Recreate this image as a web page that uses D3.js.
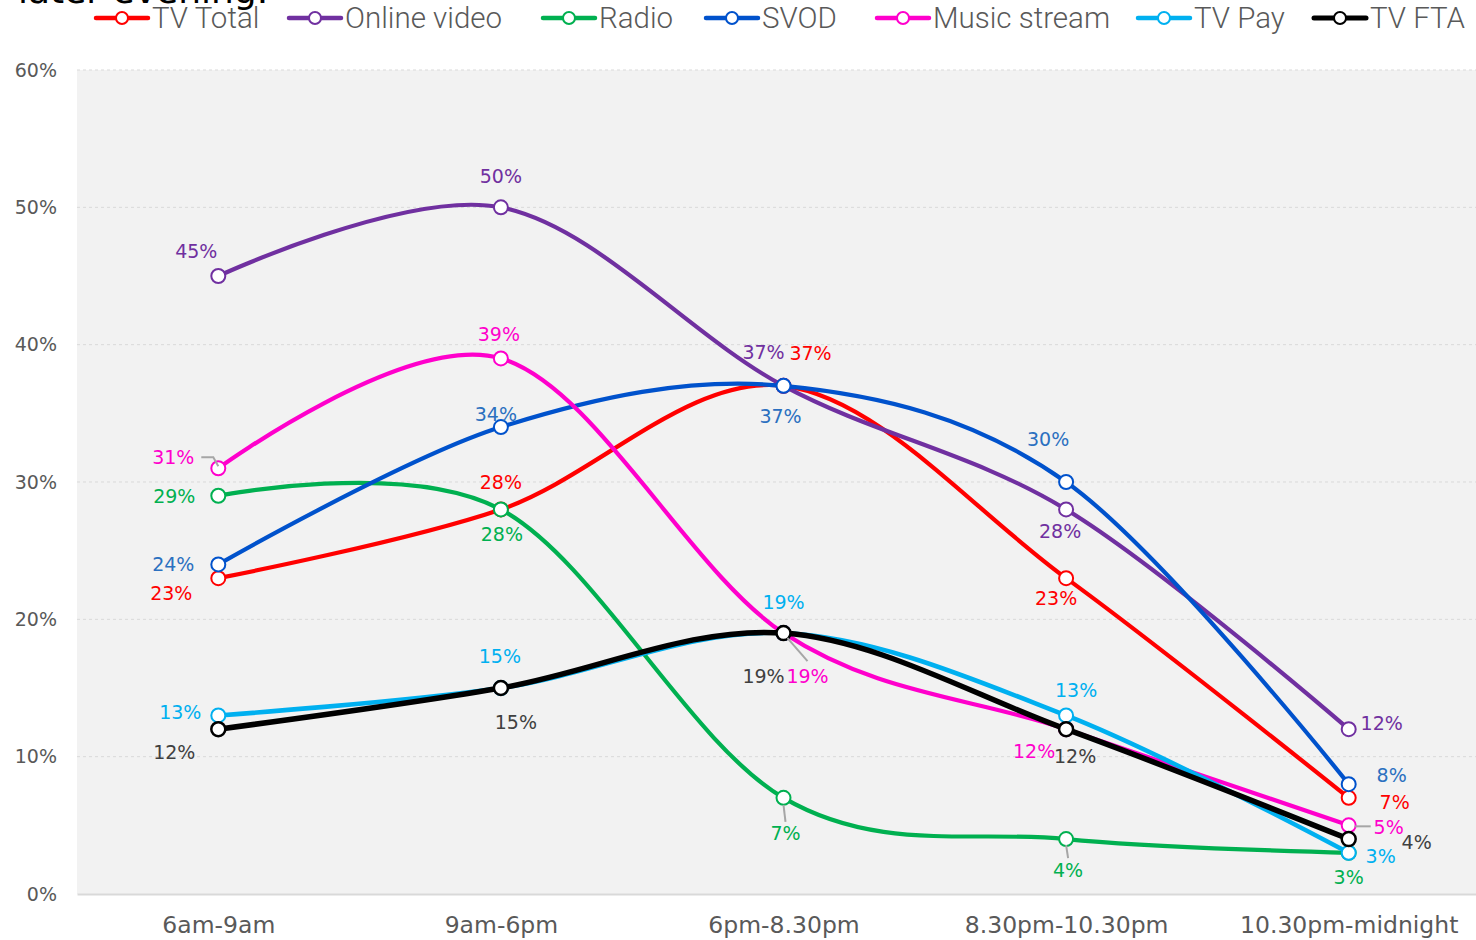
<!DOCTYPE html>
<html>
<head>
<meta charset="utf-8">
<script src="https://cdn.jsdelivr.net/npm/d3@7"></script>
<style>
  html, body { margin: 0; padding: 0; background: #ffffff; }
  svg { display: block; }
</style>
</head>
<body>
<svg id="chart" width="1476" height="940"></svg>
<script>
// ---------- DATA ----------
const categories = ["6am-9am", "9am-6pm", "6pm-8.30pm", "8.30pm-10.30pm", "10.30pm-midnight"];
const seriesNames = ["TV Total", "Online video", "Radio", "SVOD", "Music stream", "TV Pay", "TV FTA"];
const tvTotal     = [23, 28, 37, 23, 7];
const onlineVideo = [45, 50, 37, 28, 12];
const radio       = [29, 28, 7, 4, 3];
const svod        = [24, 34, 37, 30, 8];
const musicStream = [31, 39, 19, 12, 5];
const tvPay       = [13, 15, 19, 13, 3];
const tvFta       = [12, 15, 19, 12, 4];
const yTicks      = [0, 10, 20, 30, 40, 50, 60];
const titleText   = "later evening.";

// ---------- STYLE / LAYOUT ----------
const lineColors  = ["#ff0000", "#7030a0", "#00b050", "#0052cc", "#ff00cc", "#00b0f0", "#000000"];
const labelColors = ["#ff0000", "#7030a0", "#00b050", "#2b70c0", "#ff00cc", "#00b0f0", "#404040"];
const lineWidths  = [4.2, 4.2, 4.2, 4.2, 4.2, 4.6, 5.5];
// label offsets [dx, dy] from each point (label centre)
const labelOffsets = [
  [[-47, 15], [0, -27], [27, -33], [-10, 20], [46, 4]],
  [[-22, -25], [0, -31], [-20, -34], [-6, 22], [33, -6]],
  [[-44, 0], [1, 25], [2, 35], [2, 31], [0, 24]],
  [[-45, 0], [-5, -13], [-3, 30], [-18, -43], [43, -9]],
  [[-45, -11], [-2, -24], [24, 43], [-32, 22], [40, 2]],
  [[-38, -3], [-1, -32], [0, -31], [10, -25], [32, 3]],
  [[-44, 23], [15, 34], [-20, 43], [9, 27], [68, 3]]
];
// leader lines: [seriesIndex, pointIndex, list of [dx,dy] from the point]
const leaders = [
  [4, 0, [[-17, -11], [-5, -11], [0, -2]]],
  [2, 2, [[0, 7], [2, 24]]],
  [2, 3, [[0, 6], [2, 19]]],
  [4, 2, [[4, 5], [24, 28]]],
  [4, 4, [[6, 1], [22, 1]]]
];
const legendX = [96, 289, 543, 706, 877, 1138, 1314];

const allSeries = [tvTotal, onlineVideo, radio, svod, musicStream, tvPay, tvFta];

const svg = d3.select("#chart");
const W = 1476, H = 940;
const plotLeft = 77, plotTop = 70, plotBottom = 894;

const x = d3.scalePoint().domain(categories).range([plotLeft, 1490]).padding(0.5);
const y = d3.scaleLinear().domain([0, 60]).range([plotBottom, plotTop]);

const labelFont = "'DejaVu Sans', sans-serif";

// title (cut off at top)
svg.append("text")
  .attr("x", 18).attr("y", 3)
  .attr("font-family", labelFont)
  .attr("font-size", 36)
  .attr("fill", "#000")
  .text(titleText);

// plot background
svg.append("rect")
  .attr("x", plotLeft).attr("y", plotTop)
  .attr("width", W - plotLeft).attr("height", plotBottom - plotTop)
  .attr("fill", "#f2f2f2");

// gridlines
svg.append("g").selectAll("line")
  .data(yTicks.filter(d => d > 0))
  .join("line")
  .attr("x1", plotLeft).attr("x2", W)
  .attr("y1", d => y(d)).attr("y2", d => y(d))
  .attr("stroke", "#d9d9d9")
  .attr("stroke-width", 1)
  .attr("stroke-dasharray", "3,3");

// y axis
const yAxis = svg.append("g")
  .attr("transform", `translate(${plotLeft},0)`)
  .call(d3.axisLeft(y).tickValues(yTicks).tickFormat(d => d + "%").tickSize(0).tickPadding(20));
yAxis.select(".domain").remove();
yAxis.selectAll("text")
  .attr("font-family", labelFont)
  .attr("font-size", 19)
  .attr("fill", "#595959");

// x axis
const xAxis = svg.append("g")
  .attr("transform", `translate(0,${plotBottom})`)
  .call(d3.axisBottom(x).tickSize(0).tickSizeOuter(0).tickPadding(22));
xAxis.select(".domain").attr("stroke", "#d9d9d9").attr("stroke-width", 2);
xAxis.selectAll("text")
  .attr("font-family", labelFont)
  .attr("font-size", 23.5)
  .attr("fill", "#595959");

// lines + markers
const line = d3.line()
  .x((d, i) => x(categories[i]))
  .y(d => y(d))
  .curve(d3.curveCardinal.tension(0));

const seriesG = svg.append("g");
allSeries.forEach((vals, si) => {
  const g = seriesG.append("g");
  g.append("path")
    .datum(vals)
    .attr("d", line)
    .attr("fill", "none")
    .attr("stroke", lineColors[si])
    .attr("stroke-width", lineWidths[si])
    .attr("stroke-linejoin", "round")
    .attr("stroke-linecap", "round");
  g.selectAll("circle")
    .data(vals)
    .join("circle")
    .attr("cx", (d, i) => x(categories[i]))
    .attr("cy", d => y(d))
    .attr("r", 7)
    .attr("fill", "#ffffff")
    .attr("stroke", lineColors[si])
    .attr("stroke-width", si === 6 ? 2.5 : 2);
});

// leader lines
leaders.forEach(([si, pi, pts]) => {
  const px = x(categories[pi]);
  const py = y(allSeries[si][pi]);
  svg.append("path")
    .attr("d", d3.line()(pts.map(p => [px + p[0], py + p[1]])))
    .attr("fill", "none")
    .attr("stroke", "#a6a6a6")
    .attr("stroke-width", 2);
});

// data labels
const labelsG = svg.append("g");
allSeries.forEach((vals, si) => {
  labelsG.selectAll(null)
    .data(vals)
    .join("text")
    .attr("x", (d, i) => x(categories[i]) + labelOffsets[si][i][0])
    .attr("y", (d, i) => y(d) + labelOffsets[si][i][1])
    .attr("text-anchor", "middle")
    .attr("dominant-baseline", "central")
    .attr("font-family", labelFont)
    .attr("font-size", 19)
    .attr("fill", labelColors[si])
    .text(d => d + "%");
});

// legend
const legend = svg.append("g");
seriesNames.forEach((name, si) => {
  const lx = legendX[si];
  const ly = 18;
  const g = legend.append("g");
  g.append("line")
    .attr("x1", lx).attr("x2", lx + 52)
    .attr("y1", ly).attr("y2", ly)
    .attr("stroke", lineColors[si])
    .attr("stroke-width", si === 6 ? 5 : 4.5)
    .attr("stroke-linecap", "round");
  g.append("circle")
    .attr("cx", lx + 26).attr("cy", ly)
    .attr("r", 6)
    .attr("fill", "#fff")
    .attr("stroke", lineColors[si])
    .attr("stroke-width", 2);
  g.append("text")
    .attr("x", lx + 56).attr("y", ly)
    .attr("dominant-baseline", "central")
    .attr("font-family", "Roboto, sans-serif")
    .attr("font-weight", 300)
    .attr("font-size", 29.5)
    .attr("fill", "#595959")
    .text(name);
});
</script>
</body>
</html>
